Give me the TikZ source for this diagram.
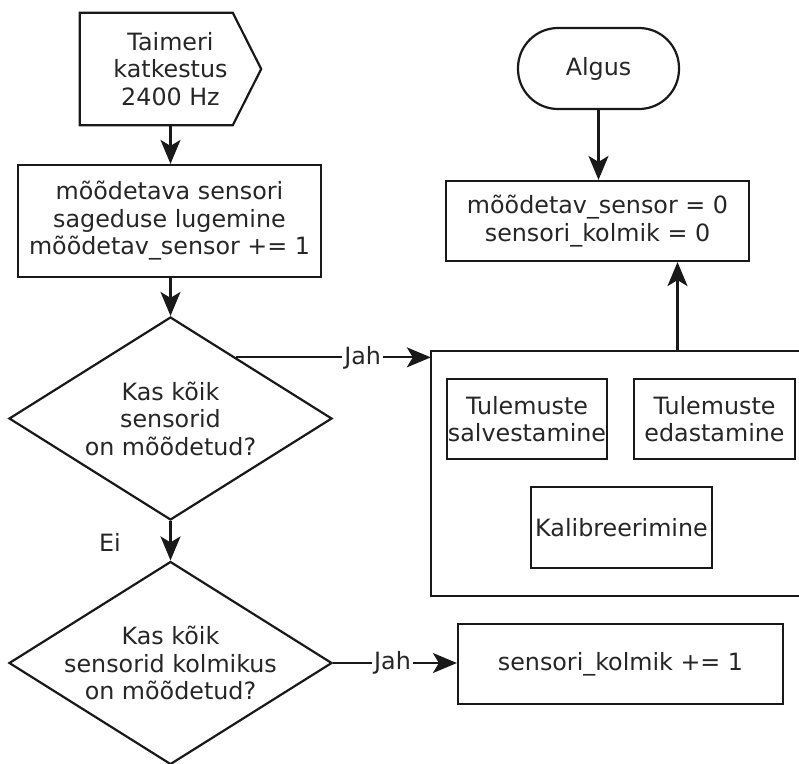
\documentclass[tikz,border=0pt]{standalone}
\usepackage{fontspec}
\setmainfont{DejaVu Sans}
\usetikzlibrary{arrows.meta,shapes.geometric,calc}
\begin{document}
\begin{tikzpicture}[x=1pt,y=-1pt,
  every node/.style={font=\fontsize{23.8}{27.5}\selectfont, align=center, inner sep=0pt, text=black!85},
  ln/.style={line width=2.2pt, draw=black!90},
  box/.style={draw=black!90, line width=2.2pt},
  dia/.style={draw=black!90, line width=2.2pt, diamond, minimum width=323pt, minimum height=203pt, inner sep=0pt},
  arr/.style={line width=2.2pt, draw=black!90, -{Stealth[length=24pt,width=20pt,inset=6pt]}},
  lbl/.style={fill=white, inner sep=2pt}
]
\useasboundingbox (0,0) rectangle (799,763);

% left column
\node[minimum width=181pt, minimum height=112pt] (timer) at (170.5,69) {Taimeri\\katkestus\\2400 Hz};
\draw[ln] (timer.north west) -- ([xshift=153pt]timer.north west) -- (timer.east)
  -- ([xshift=153pt]timer.south west) -- (timer.south west) -- cycle;

\node[box, minimum width=303pt, minimum height=112pt] (proc) at (169.5,221)
  {mõõdetava sensori\\sageduse lugemine\\mõõdetav\_sensor += 1};

\node[dia, label={[align=center]center:{Kas kõik\\sensorid\\on mõõdetud?}}] (d1) at (170.5,418.5) {};
\node[dia, label={[align=center]center:{Kas kõik\\sensorid kolmikus\\on mõõdetud?}}] (d2) at (170.5,663) {};

\node (ei) at (110,542) {Ei};

% right column
\node[box, rounded corners=40pt, minimum width=161pt, minimum height=81pt] (algus) at (598.5,68.5) {Algus};
\node[box, minimum width=303pt, minimum height=80pt] (init) at (597.5,221)
  {mõõdetav\_sensor = 0\\sensori\_kolmik = 0};

\node[minimum width=368pt, minimum height=245pt] (cont) at (615,473.5) {};
\draw[ln] (cont.north east) -- (cont.north west) -- (cont.south west) -- (cont.south east);

\node[box, minimum width=160pt, minimum height=80pt] (s1) at (527,419) {Tulemuste\\salvestamine};
\node[box, minimum width=161pt, minimum height=80pt] (s2) at (714.5,419) {Tulemuste\\edastamine};
\node[box, minimum width=181pt, minimum height=81pt] (kal) at (621.5,527.5) {Kalibreerimine};

\node[box, minimum width=325pt, minimum height=80pt] (kol) at (620.5,664) {sensori\_kolmik += 1};

% connectors
\draw[arr] (timer.south) -- (timer.south |- proc.north);
\draw[arr] (d1.north |- proc.south) -- (d1.north);
\draw[arr] (d1.south) -- (d2.north);
\coordinate (j1s) at ($(d1.north)!0.404!(d1.east)$);
\draw[arr] (j1s) -- (j1s -| cont.west) node[lbl, pos=0.65] {Jah};
\draw[arr] (d2.east) -- (d2.east -| kol.west) node[lbl, pos=0.48] {Jah};
\draw[arr] (algus.south) -- (algus.south |- init.north);
\draw[arr] ([xshift=80pt]init.south |- cont.north) -- ([xshift=80pt]init.south);
\end{tikzpicture}
\end{document}
